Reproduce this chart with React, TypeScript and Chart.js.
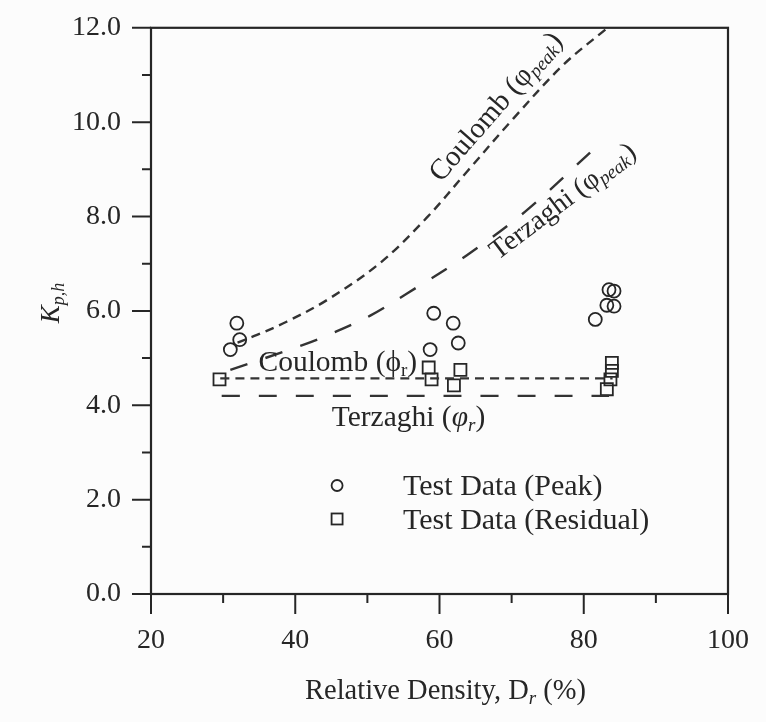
import React, { useEffect, useRef } from 'react';
import { Chart, registerables } from 'chart.js';

Chart.register(...registerables);

// ---- data ----
const xTickValues = [20, 40, 60, 80, 100];
const yTickValues = [0, 2, 4, 6, 8, 10, 12];

const peakX = [31.9, 32.3, 31.0, 59.2, 61.9, 62.6, 58.7, 83.5, 84.2, 83.2, 84.2, 81.6];
const peakY = [5.74, 5.39, 5.18, 5.95, 5.74, 5.32, 5.18, 6.45, 6.42, 6.12, 6.1, 5.82];

const residualX = [29.5, 58.5, 58.9, 62.9, 62.0, 83.9, 83.9, 83.7, 83.2];
const residualY = [4.55, 4.8, 4.55, 4.75, 4.42, 4.9, 4.73, 4.55, 4.34];

const coulombPeakX = [32.0, 34.7, 38.8, 44.4, 51.8, 58.2, 63.8, 70.2, 77.2, 83.3];
const coulombPeakY = [5.33, 5.49, 5.77, 6.23, 7.02, 7.97, 8.95, 10.07, 11.22, 12.0];

const terzaghiPeakX = [31.0, 41.1, 45.2, 50.4, 55.5, 63.8, 72.0, 82.6];
const terzaghiPeakY = [4.75, 5.28, 5.53, 5.9, 6.37, 7.18, 8.12, 9.6];

const coulombResX = [29.6, 84.0];
const coulombResY = [4.57, 4.57];

const terzaghiResX = [29.8, 83.5];
const terzaghiResY = [4.2, 4.2];

const INK = '#262626';
const SERIF = '"Liberation Serif", "Times New Roman", serif';

const zip = (xs: number[], ys: number[]) => xs.map((x, i) => ({ x, y: ys[i] }));

type Seg = { t: string; size: number; italic?: boolean; dy?: number };

function drawRich(
  ctx: CanvasRenderingContext2D,
  segs: Seg[],
  cx: number,
  cy: number,
  angleDeg: number,
  align: 'center' | 'left' = 'center',
) {
  const fontOf = (s: Seg) => `${s.italic ? 'italic ' : ''}${s.size}px ${SERIF}`;
  ctx.save();
  ctx.translate(cx, cy);
  ctx.rotate((angleDeg * Math.PI) / 180);
  let w = 0;
  for (const s of segs) {
    ctx.font = fontOf(s);
    w += ctx.measureText(s.t).width;
  }
  let x = align === 'center' ? -w / 2 : 0;
  const base = segs[0].size * 0.33;
  ctx.fillStyle = INK;
  ctx.textBaseline = 'alphabetic';
  ctx.textAlign = 'left';
  for (const s of segs) {
    ctx.font = fontOf(s);
    ctx.fillText(s.t, x, base + (s.dy || 0));
    x += ctx.measureText(s.t).width;
  }
  ctx.restore();
}

const decorPlugin = {
  id: 'decor',
  beforeDraw(chart: any) {
    const { ctx, width, height } = chart;
    ctx.save();
    ctx.fillStyle = '#fcfcfc';
    ctx.fillRect(0, 0, width, height);
    ctx.restore();
  },
  afterDraw(chart: any) {
    const { ctx, chartArea: a } = chart;
    const xs = chart.scales.x;
    const ys = chart.scales.y;
    ctx.save();
    ctx.strokeStyle = INK;
    ctx.lineWidth = 2.2;
    ctx.strokeRect(a.left, a.top, a.right - a.left, a.bottom - a.top);
    ctx.lineWidth = 2;
    ctx.beginPath();
    for (let v = 0; v <= 12; v += 1) {
      const py = ys.getPixelForValue(v);
      const len = v % 2 === 0 ? 19 : 9;
      ctx.moveTo(a.left - len, py);
      ctx.lineTo(a.left, py);
    }
    for (let v = 20; v <= 100; v += 10) {
      const px = xs.getPixelForValue(v);
      const len = v % 20 === 0 ? 20 : 9;
      ctx.moveTo(px, a.bottom);
      ctx.lineTo(px, a.bottom + len);
    }
    ctx.stroke();

    // curve labels
    const P = (x: number, y: number) => [xs.getPixelForValue(x), ys.getPixelForValue(y)];
    let [px, py] = P(67.7, 10.34);
    drawRich(ctx, [
      { t: 'Coulomb (', size: 29 },
      { t: 'φ', size: 29 },
      { t: 'peak', size: 19, italic: true, dy: 4 },
      { t: ')', size: 29 },
    ], px, py, -49);
    [px, py] = P(77.0, 8.34);
    drawRich(ctx, [
      { t: 'Terzaghi (', size: 28 },
      { t: 'φ', size: 28 },
      { t: 'peak', size: 19, italic: true, dy: 4 },
      { t: ')', size: 28 },
    ], px, py, -37);
    [px, py] = P(45.9, 4.94);
    drawRich(ctx, [
      { t: 'Coulomb (', size: 29.5 },
      { t: 'ϕ', size: 29.5 },
      { t: 'r', size: 19, dy: 5 },
      { t: ')', size: 29.5 },
    ], px, py, 0);
    [px, py] = P(55.7, 3.77);
    drawRich(ctx, [
      { t: 'Terzaghi (', size: 29.5 },
      { t: 'φ', size: 29.5, italic: true },
      { t: 'r', size: 19, italic: true, dy: 5 },
      { t: ')', size: 29.5 },
    ], px, py, 0);

    // legend
    const [lx, ly1] = P(45.8, 2.3);
    const [, ly2] = P(45.8, 1.59);
    const [tx] = P(54.95, 0);
    ctx.lineWidth = 1.8;
    ctx.beginPath();
    ctx.arc(lx, ly1, 5.5, 0, Math.PI * 2);
    ctx.stroke();
    ctx.strokeRect(lx - 5.5, ly2 - 5.5, 11, 11);
    drawRich(ctx, [{ t: 'Test Data (Peak)', size: 30 }], tx, ly1, 0, 'left');
    drawRich(ctx, [{ t: 'Test Data (Residual)', size: 30 }], tx, ly2, 0, 'left');

    // axis titles
    drawRich(ctx, [
      { t: 'Relative Density, D', size: 28.5 },
      { t: 'r', size: 19, italic: true, dy: 5 },
      { t: ' (%)', size: 28.5 },
    ], (a.left + a.right) / 2 + 6, 690, 0);
    drawRich(ctx, [
      { t: 'K', size: 27, italic: true },
      { t: 'p,h', size: 18, italic: true, dy: 5 },
    ], 50, 303, -90);
    ctx.restore();
  },
};

export default function App() {
  const ref = useRef<HTMLCanvasElement | null>(null);
  useEffect(() => {
    if (!ref.current) return;
    const lineDs = (label: string, xs: number[], ys: number[], dash: number[]) => ({
      label,
      data: zip(xs, ys),
      showLine: true,
      borderColor: '#333333',
      borderWidth: 2.4,
      borderDash: dash,
      pointRadius: 0,
      fill: false,
      tension: 0.35,
    });
    const chart = new Chart(ref.current, {
      type: 'scatter',
      data: {
        datasets: [
          lineDs('Coulomb (φpeak)', coulombPeakX, coulombPeakY, [9, 6]),
          lineDs('Terzaghi (φpeak)', terzaghiPeakX, terzaghiPeakY, [18, 19]),
          lineDs('Coulomb (φr)', coulombResX, coulombResY, [9, 6]),
          lineDs('Terzaghi (φr)', terzaghiResX, terzaghiResY, [18, 19]),
          {
            label: 'Test Data (Peak)',
            data: zip(peakX, peakY),
            pointStyle: 'circle',
            pointRadius: 6.5,
            borderColor: INK,
            borderWidth: 1.8,
            backgroundColor: 'rgba(0,0,0,0)',
          },
          {
            label: 'Test Data (Residual)',
            data: zip(residualX, residualY),
            pointStyle: 'rect',
            pointRadius: 8.5,
            borderColor: INK,
            borderWidth: 1.8,
            backgroundColor: 'rgba(0,0,0,0)',
          },
        ],
      },
      options: {
        responsive: false,
        animation: false,
        layout: { padding: { left: 0, right: 38, top: 21, bottom: 0 } },
        plugins: { legend: { display: false }, tooltip: { enabled: false } },
        scales: {
          x: {
            type: 'linear',
            min: 20,
            max: 100,
            afterFit: (s: any) => { s.height = 128; },
            afterBuildTicks: (s: any) => { s.ticks = xTickValues.map((v) => ({ value: v })); },
            border: { display: false },
            grid: { display: true, drawOnChartArea: false, drawTicks: true, tickLength: 20, color: 'rgba(0,0,0,0)' },
            ticks: {
              padding: 10,
              color: INK,
              font: { family: SERIF, size: 28 },
              maxRotation: 0,
              callback: (v: any) => String(v),
            },
          },
          y: {
            type: 'linear',
            min: 0,
            max: 12,
            afterFit: (s: any) => { s.width = 151; },
            afterBuildTicks: (s: any) => { s.ticks = yTickValues.map((v) => ({ value: v })); },
            border: { display: false },
            grid: { display: true, drawOnChartArea: false, drawTicks: true, tickLength: 19, color: 'rgba(0,0,0,0)' },
            ticks: {
              padding: 11,
              color: INK,
              font: { family: SERIF, size: 28 },
              callback: (v: any) => Number(v).toFixed(1),
            },
          },
        },
      },
      plugins: [decorPlugin],
    });
    return () => chart.destroy();
  }, []);
  return (
    <div style={{ position: 'fixed', left: 0, top: 0, width: 766, height: 722, background: '#fcfcfc' }}>
      <canvas ref={ref} width={766} height={722} style={{ display: 'block' }} />
    </div>
  );
}
